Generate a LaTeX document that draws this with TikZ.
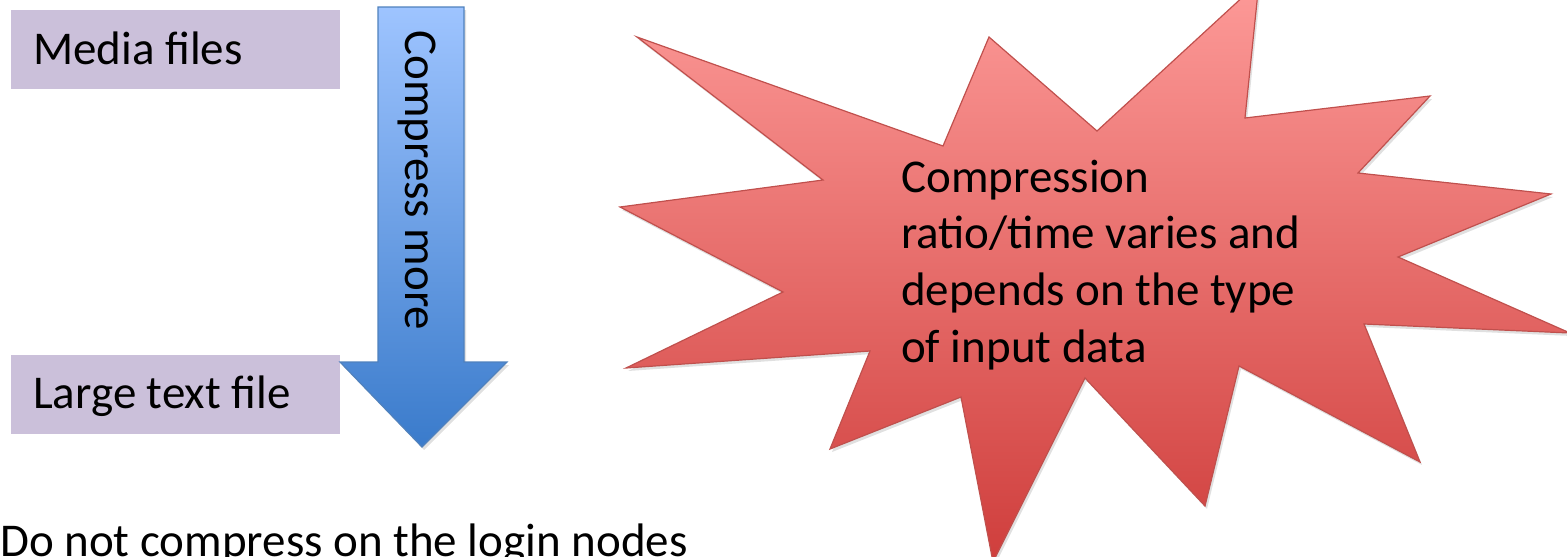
\documentclass[tikz,border=0pt]{standalone}
\usepackage{fontspec}
\setmainfont{Carlito}
\definecolor{boxfill}{RGB}{203,192,218}
\definecolor{arrtop}{RGB}{158,196,255}
\definecolor{arrbot}{RGB}{58,123,203}
\definecolor{arrline}{RGB}{79,129,189}
\definecolor{startop}{RGB}{253,154,152}
\definecolor{starbot}{RGB}{207,62,60}
\definecolor{starline}{RGB}{192,80,77}
\newcommand{\mystarpath}{(637,37) -- (943,146) -- (989,37) -- (1097,131) -- (1259,-18) -- (1245,118) -- (1430,96) -- (1358,173) -- (1551,194) -- (1398,257) -- (1570,333) -- (1364,324) -- (1420,462) -- (1239,366) -- (1205,506) -- (1085,378) -- (993,562) -- (961,397) -- (830,449) -- (870,351) -- (626,368) -- (783,292) -- (620,207) -- (823,180) -- cycle}
\newcommand{\myarrowpath}{(378,7) -- (464,7) -- (464,362) -- (507,362) -- (422,447) -- (340,362) -- (378,362) -- cycle}
\begin{document}
\begin{tikzpicture}[x=1pt,y=-1pt,
  bigtext/.style={font=\fontsize{47}{56.7}\selectfont, inner sep=0pt, text=black},
  filebox/.style={fill=boxfill, draw=none, inner sep=0pt, minimum width=329pt, minimum height=79pt, anchor=north west},
  shadowstyle/.style={fill=black, opacity=0.12},
  arrowstyle/.style={top color=arrtop, bottom color=arrbot, draw=arrline, line width=1.2pt, line join=miter},
  starstyle/.style={top color=startop, bottom color=starbot, draw=starline, line width=1.2pt, line join=miter}
]
\useasboundingbox (0,0) rectangle (1567,557);
\clip (0,0) rectangle (1567,557);
% file boxes
\node[filebox] (media) at (11,10) {};
\node[filebox] (large) at (11,355) {};
\node[bigtext, anchor=base west] (mediatxt) at (33,64) {Media files};
\node[bigtext, anchor=base west] (largetxt) at (33,408) {Large text file};
% arrow
\begin{scope}[shift={(2,3)}]
\fill[shadowstyle] \myarrowpath;
\end{scope}
\draw[arrowstyle] \myarrowpath;
\node[bigtext, rotate=-90, anchor=base west] (arrtxt) at (405,30) {Compress more};
% star
\begin{scope}[shift={(2,3)}]
\fill[shadowstyle] \mystarpath;
\end{scope}
\draw[starstyle] \mystarpath;
\node[bigtext, anchor=base west] (s1) at (901,192) {Compression};
\node[bigtext, anchor=base west] (s2) at (901,248) {ratio/time varies and};
\node[bigtext, anchor=base west] (s3) at (901,305) {depends on the type};
\node[bigtext, anchor=base west] (s4) at (901,362) {of input data};
% bottom note
\node[bigtext, anchor=base west] (note) at (0,556) {Do not compress on the login nodes};
\end{tikzpicture}
\end{document}
